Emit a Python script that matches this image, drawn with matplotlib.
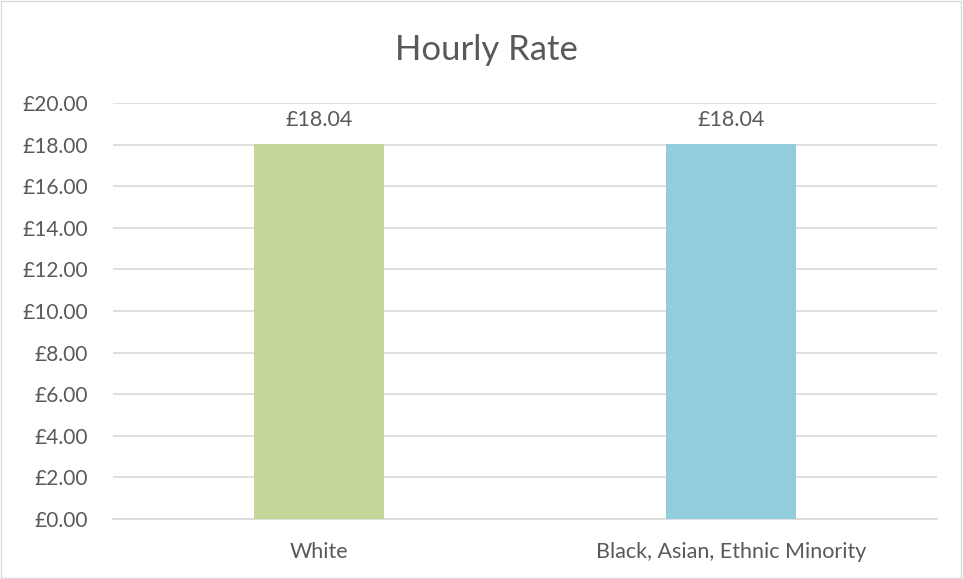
import matplotlib
matplotlib.use("Agg")
import matplotlib.pyplot as plt
from matplotlib.patches import Rectangle

categories = ["White", "Black, Asian, Ethnic Minority"]
hourly_rate = [18.04, 18.04]
bar_colors = ["#C4D79B", "#92CDDC"]
y_ticks = [0, 2, 4, 6, 8, 10, 12, 14, 16, 18, 20]

plt.rcParams["font.family"] = ["Lato", "DejaVu Sans"]
TEXT = "#595959"

fig = plt.figure(figsize=(9.63, 5.79), dpi=100)
ax = fig.add_axes([113 / 963, 60 / 579, 824 / 963, 416 / 579])

x = range(len(categories))
ax.bar(x, hourly_rate, width=0.316, color=bar_colors, zorder=3)

for xi, v in zip(x, hourly_rate):
    ax.text(xi, v + 0.65, f"£{v:.2f}", ha="center", va="bottom",
            fontsize=15.5, color=TEXT)

ax.set_xlim(-0.5, 1.5)
ax.set_ylim(0, 20)
ax.set_yticks(y_ticks)
ax.set_yticklabels([f"£{t:.2f}" for t in y_ticks])
ax.set_xticks(list(x))
ax.set_xticklabels(categories)
ax.tick_params(axis="y", length=0, labelsize=15, labelcolor=TEXT, pad=18)
ax.tick_params(axis="x", length=0, labelsize=15.5, labelcolor=TEXT, pad=16.5)
ax.grid(True, axis="y", color="#D9D9D9", linewidth=1.2, zorder=0)
for side in ["top", "right", "left"]:
    ax.spines[side].set_visible(False)
ax.spines["bottom"].set_color("#D9D9D9")
ax.spines["bottom"].set_linewidth(1.2)

fig.text(486 / 963, 1 - 50 / 579, "Hourly Rate", ha="center", va="center",
         fontsize=25, color=TEXT)

fig.patches.append(Rectangle((0.001, 0.001), 0.997, 0.997, transform=fig.transFigure,
                             fill=False, edgecolor="#D9D9D9", linewidth=1))

fig.savefig("out.png", dpi=100, facecolor="white")
